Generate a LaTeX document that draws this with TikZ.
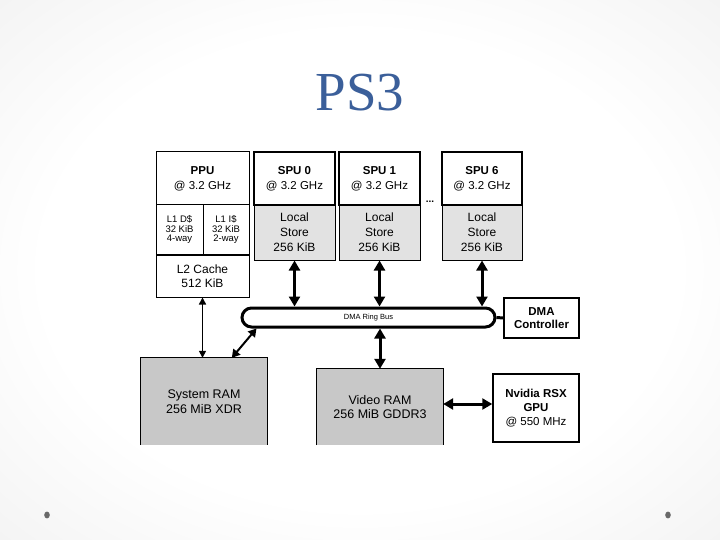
\documentclass[tikz,border=0pt]{standalone}
\usepackage{fontspec}
\setmainfont{Liberation Sans}
\newfontfamily\titlefont{Liberation Serif}
\usetikzlibrary{calc,arrows.meta}
\definecolor{titleblue}{RGB}{59,95,154}
\definecolor{ramgray}{RGB}{200,200,200}
\definecolor{lsgray}{RGB}{226,226,226}
\definecolor{bulletgray}{RGB}{105,105,105}
\definecolor{bgmid}{RGB}{232,232,232}
\definecolor{bgedge}{RGB}{215,215,215}
\pgfdeclareradialshading{slidebg}{\pgfpoint{0bp}{0bp}}{color(0bp)=(white); color(22bp)=(white); color(50bp)=(bgmid); color(72bp)=(bgedge)}
\tikzset{
  thinbox/.style={draw=black, line width=1pt, fill=white, inner sep=0pt, align=center, font=\fontsize{11.5}{15}\selectfont},
  topbox/.style={draw=black, line width=2pt, fill=white, inner sep=0pt, align=center, font=\fontsize{11.5}{15}\selectfont},
  lsbox/.style={draw=black, line width=1pt, fill=lsgray, inner sep=0pt, align=center, font=\fontsize{12}{15}\selectfont},
  l1box/.style={draw=black, line width=1pt, fill=white, inner sep=0pt, align=center, font=\fontsize{9.5}{9.5}\selectfont},
  ramtext/.style={inner sep=0pt, align=center, font=\fontsize{12.5}{15}\selectfont},
  bigarrow/.style={line width=3pt, {Triangle[width=11pt,length=10pt]}-{Triangle[width=11pt,length=10pt]}},
  midarrow/.style={line width=2pt, {Triangle[width=9pt,length=8pt]}-{Triangle[width=9pt,length=8pt]}},
  smallarrow/.style={line width=1.5pt, {Triangle[width=7pt,length=7pt]}-{Triangle[width=7pt,length=7pt]}},
}
\begin{document}
\begin{tikzpicture}[x=1pt,y=-1pt]
\useasboundingbox (0,0) rectangle (720,540);
% background
\shade[shading=slidebg] (0,0) rectangle (720,540);
\fill[white] (137,146) rectangle (583,445);
% title
\node[text=titleblue, font=\titlefont\fontsize{55}{60}\selectfont, anchor=base] (title) at (360,111) {PS3};
% bullets
\fill[bulletgray] (47,515) ellipse (2.8pt and 3.4pt);
\fill[bulletgray] (668,515) ellipse (2.8pt and 3.4pt);

% PPU
\node[thinbox, minimum width=93pt, minimum height=53pt] (ppu) at (202.5,178.5) {{\bfseries\fontsize{11.5}{15}\selectfont PPU}\\@ 3.2 GHz};
\node[l1box, minimum width=47pt, minimum height=49pt] (l1d) at (179.5,229.5) {L1 D\$\\32 KiB\\4-way};
\node[l1box, minimum width=46pt, minimum height=49pt] (l1i) at (226,229.5) {L1 I\$\\32 KiB\\2-way};
\node[thinbox, font=\fontsize{12}{14.5}\selectfont, minimum width=93pt, minimum height=42pt] (l2) at (202.5,276) {L2 Cache\\512 KiB};

% SPUs
\node[lsbox, minimum width=81pt, minimum height=55pt] (ls0) at (294.5,232.5) {Local\\Store\\256 KiB};
\node[topbox, minimum width=81pt, minimum height=53pt] (spu0) at (294.5,178.5) {{\bfseries\fontsize{11.5}{15}\selectfont SPU 0}\\@ 3.2 GHz};
\node[lsbox, minimum width=81pt, minimum height=55pt] (ls1) at (379.5,232.5) {Local\\Store\\256 KiB};
\node[topbox, minimum width=81pt, minimum height=53pt] (spu1) at (379.5,178.5) {{\bfseries\fontsize{11.5}{15}\selectfont SPU 1}\\@ 3.2 GHz};
\node[lsbox, minimum width=80pt, minimum height=55pt] (ls6) at (482,232.5) {Local\\Store\\256 KiB};
\node[topbox, minimum width=80pt, minimum height=53pt] (spu6) at (482,178.5) {{\bfseries\fontsize{11.5}{15}\selectfont SPU 6}\\@ 3.2 GHz};
\node[font=\fontsize{10}{10}\selectfont\bfseries] (dots) at (430,202) {...};

% DMA ring bus
\node[draw=black, line width=3pt, rounded corners=9.5pt, minimum width=253pt, minimum height=19pt, inner sep=0pt, font=\fontsize{7.5}{8}\selectfont] (bus) at (368.5,317.5) {DMA Ring Bus};
\node[thinbox, line width=1.5pt, minimum width=75pt, minimum height=40pt, font=\fontsize{11.5}{13.5}\selectfont\bfseries] (dma) at (541.5,318) {DMA\\Controller};
\draw[line width=3pt] (bus.east) -- (dma.west);

% RAMs
\fill[ramgray] (141,358) rectangle (267,445);
\node[ramtext, minimum width=126pt, minimum height=87pt] (sysram) at (204,401.5) {System RAM\\256 MiB XDR};
\draw[line width=1pt] (sysram.south west) -- (sysram.north west) -- (sysram.north east) -- (sysram.south east);

\fill[ramgray] (317,369) rectangle (443,445);
\node[ramtext, minimum width=126pt, minimum height=76pt, font=\fontsize{12.5}{14}\selectfont] (vram) at (380,407) {Video RAM\\256 MiB GDDR3};
\draw[line width=1pt] (vram.south west) -- (vram.north west) -- (vram.north east) -- (vram.south east);

\node[thinbox, line width=1.5pt, minimum width=86pt, minimum height=68pt, font=\fontsize{11.5}{14}\selectfont] (gpu) at (536,408) {\textbf{Nvidia RSX}\\\textbf{GPU}\\@ 550 MHz};

% arrows
\draw[bigarrow] (ls0.south) -- (ls0.south |- bus.north);
\draw[bigarrow] (ls1.south) -- (ls1.south |- bus.north);
\draw[bigarrow] (ls6.south) -- (ls6.south |- bus.north);
\draw[bigarrow] (vram.north |- bus.south) -- (vram.north);
\draw[bigarrow] ($(vram.east)+(0,-3)$) -- ($(vram.east -| gpu.west)+(0,-3)$);
\draw[smallarrow] (l2.south) -- (l2.south |- sysram.north);
\draw[midarrow] ($(sysram.north west)+(91,0)$) -- ($(bus.south west)+(16,0)$);
\end{tikzpicture}
\end{document}
